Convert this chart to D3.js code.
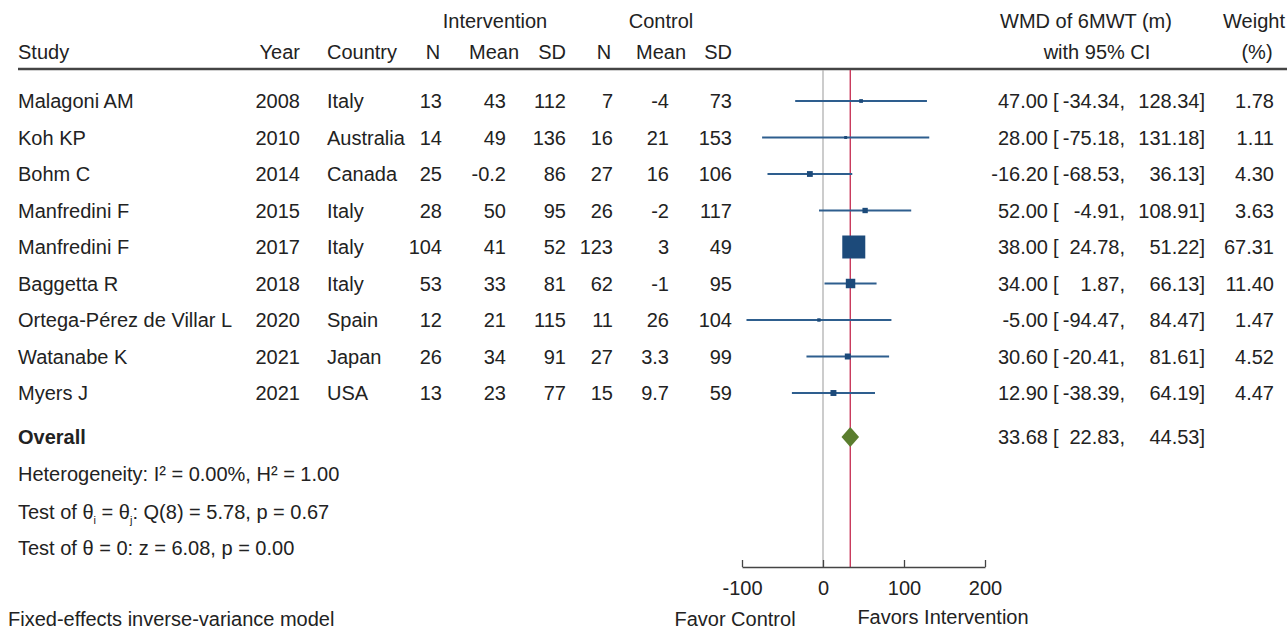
<!DOCTYPE html>
<html lang="en">
<head>
<meta charset="UTF-8">
<title>Forest plot - WMD of 6MWT</title>
<script src="https://d3js.org/d3.v7.min.js"></script>
<style>
  body { margin: 0; background: #fff; overflow: hidden; }
  svg { display: block; font-family: "Liberation Sans", Arial, Helvetica, sans-serif; }
  text { fill: #222; font-size: 20px; }
</style>
</head>
<body>
<svg id="chart" width="1287" height="631"></svg>
<script>
// --- data ---
const studies   = ["Malagoni AM", "Koh KP", "Bohm C", "Manfredini F", "Manfredini F", "Baggetta R", "Ortega-Pérez de Villar L", "Watanabe K", "Myers J"];
const years     = [2008, 2010, 2014, 2015, 2017, 2018, 2020, 2021, 2021];
const countries = ["Italy", "Australia", "Canada", "Italy", "Italy", "Italy", "Spain", "Japan", "USA"];
const intN      = ["13", "14", "25", "28", "104", "53", "12", "26", "13"];
const intMean   = ["43", "49", "-0.2", "50", "41", "33", "21", "34", "23"];
const intSD     = ["112", "136", "86", "95", "52", "81", "115", "91", "77"];
const ctlN      = ["7", "16", "27", "26", "123", "62", "11", "27", "15"];
const ctlMean   = ["-4", "21", "16", "-2", "3", "-1", "26", "3.3", "9.7"];
const ctlSD     = ["73", "153", "106", "117", "49", "95", "104", "99", "59"];
const wmd       = [47.00, 28.00, -16.20, 52.00, 38.00, 34.00, -5.00, 30.60, 12.90];
const lower     = [-34.34, -75.18, -68.53, -4.91, 24.78, 1.87, -94.47, -20.41, -38.39];
const upper     = [128.34, 131.18, 36.13, 108.91, 51.22, 66.13, 84.47, 81.61, 64.19];
const weights   = [1.78, 1.11, 4.30, 3.63, 67.31, 11.40, 1.47, 4.52, 4.47];
const overall   = { est: 33.68, lo: 22.83, hi: 44.53 };
const axisTicks = [-100, 0, 100, 200];

const svg = d3.select("#chart");

// plain hyphen for negatives, like the original
const loc = d3.formatLocale({ decimal: ".", thousands: ",", grouping: [3], currency: ["", ""], minus: "-" });
const f2 = loc.format(".2f");
const f0 = loc.format("d");

// scales
const x = d3.scaleLinear().domain([-100, 200]).range([742, 985]);
const y = d3.scalePoint().domain(d3.range(studies.length)).range([101, 393]);
const yOverall = 437;
const sq = d3.scaleSqrt().domain([0, 67.31]).range([0, 23]);

// --- header ---
const head = svg.append("g");
function htext(t, xx, yy, anchor) {
  head.append("text").attr("x", xx).attr("y", yy).attr("text-anchor", anchor).text(t);
}
htext("Intervention", 495, 28, "middle");
htext("Control", 661, 28, "middle");
htext("WMD of 6MWT (m)", 1086, 28, "middle");
htext("Weight", 1254, 28, "middle");
htext("Study", 18, 59, "start");
htext("Year", 300, 59, "end");
htext("Country", 327, 59, "start");
htext("N", 433, 59, "middle");
htext("Mean", 494, 59, "middle");
htext("SD", 566, 59, "end");
htext("N", 604, 59, "middle");
htext("Mean", 661, 59, "middle");
htext("SD", 732, 59, "end");
htext("with 95% CI", 1097, 59, "middle");
htext("(%)", 1257, 59, "middle");

svg.append("line")
  .attr("x1", 18).attr("x2", 1287).attr("y1", 69).attr("y2", 69)
  .attr("stroke", "#444").attr("stroke-width", 2.5);

// --- reference lines ---
svg.append("line")
  .attr("x1", x(0)).attr("x2", x(0)).attr("y1", 70).attr("y2", 567)
  .attr("stroke", "#aaa").attr("stroke-width", 1.2);
svg.append("line")
  .attr("x1", x(overall.est)).attr("x2", x(overall.est)).attr("y1", 70).attr("y2", 567)
  .attr("stroke", "#c8385a").attr("stroke-width", 1.4);

// --- table rows ---
const rows = svg.append("g").selectAll("g")
  .data(d3.range(studies.length))
  .join("g")
  .attr("transform", i => `translate(0,${y(i)})`);

function col(values, xx, anchor) {
  rows.append("text")
    .attr("x", xx).attr("dy", "0.35em").attr("text-anchor", anchor)
    .text(i => values[i]);
}
col(studies, 18, "start");
col(years, 300, "end");
col(countries, 327, "start");
col(intN, 442, "end");
col(intMean, 506, "end");
col(intSD, 566, "end");
col(ctlN, 613, "end");
col(ctlMean, 669, "end");
col(ctlSD, 732, "end");

// CI and squares
rows.append("line")
  .attr("x1", i => x(lower[i])).attr("x2", i => x(upper[i]))
  .attr("stroke", "#2e5e8e").attr("stroke-width", 2);
rows.append("rect")
  .attr("x", i => x(wmd[i]) - sq(weights[i]) / 2)
  .attr("y", i => -sq(weights[i]) / 2)
  .attr("width", i => sq(weights[i]))
  .attr("height", i => sq(weights[i]))
  .attr("fill", "#1c4a7a");

// estimate text: est [lo, hi] in right-aligned pieces
function ciText(g, est, lo, hi) {
  g.append("text").attr("x", 1048).attr("dy", "0.35em").attr("text-anchor", "end").text(est);
  g.append("text").attr("x", 1053).attr("dy", "0.35em").text("[");
  g.append("text").attr("x", 1125).attr("dy", "0.35em").attr("text-anchor", "end").text(lo);
  g.append("text").attr("x", 1205).attr("dy", "0.35em").attr("text-anchor", "end").text(hi);
}
ciText(rows, i => f2(wmd[i]), i => f2(lower[i]) + ",", i => f2(upper[i]) + "]");
rows.append("text").attr("x", 1274).attr("dy", "0.35em").attr("text-anchor", "end").text(i => f2(weights[i]));

// --- overall ---
svg.append("text").attr("x", 18).attr("y", yOverall).attr("dy", "0.35em")
  .attr("font-weight", "bold").text("Overall");
svg.append("path")
  .attr("d", `M${x(overall.lo)},${yOverall} L${x(overall.est)},${yOverall - 10} L${x(overall.hi)},${yOverall} L${x(overall.est)},${yOverall + 10} Z`)
  .attr("fill", "#5a7d2e");
const og = svg.append("g").attr("transform", `translate(0,${yOverall})`);
ciText(og, f2(overall.est), f2(overall.lo) + ",", f2(overall.hi) + "]");

// --- heterogeneity notes ---
svg.append("text").attr("x", 18).attr("y", 474).attr("dy", "0.35em")
  .text("Heterogeneity: I² = 0.00%, H² = 1.00");

const n2 = svg.append("text").attr("x", 18).attr("y", 512).attr("dy", "0.35em");
n2.append("tspan").text("Test of θ");
n2.append("tspan").attr("font-size", "11px").attr("dy", 5).text("i");
n2.append("tspan").attr("dy", -5).text(" = θ");
n2.append("tspan").attr("font-size", "11px").attr("dy", 5).text("j");
n2.append("tspan").attr("dy", -5).text(": Q(8) = 5.78, p = 0.67");

svg.append("text").attr("x", 18).attr("y", 548).attr("dy", "0.35em")
  .text("Test of θ = 0: z = 6.08, p = 0.00");

svg.append("text").attr("x", 8).attr("y", 619).attr("dy", "0.35em")
  .text("Fixed-effects inverse-variance model");

// --- axis ---
const axis = svg.append("g")
  .attr("transform", "translate(0,567)")
  .call(d3.axisBottom(x).tickValues(axisTicks).tickFormat(f0).tickSize(-7).tickPadding(14).tickSizeOuter(0));
axis.select(".domain").attr("stroke", "#444").attr("stroke-width", 1.3);
axis.selectAll(".tick line").attr("stroke", "#444").attr("stroke-width", 1.3);
axis.selectAll(".tick text").attr("font-size", "20px").attr("font-family", null).attr("fill", "#222");

svg.append("text").attr("x", 735).attr("y", 619).attr("dy", "0.35em")
  .attr("text-anchor", "middle").text("Favor Control");
svg.append("text").attr("x", 943).attr("y", 617).attr("dy", "0.35em")
  .attr("text-anchor", "middle").text("Favors Intervention");
</script>
</body>
</html>
